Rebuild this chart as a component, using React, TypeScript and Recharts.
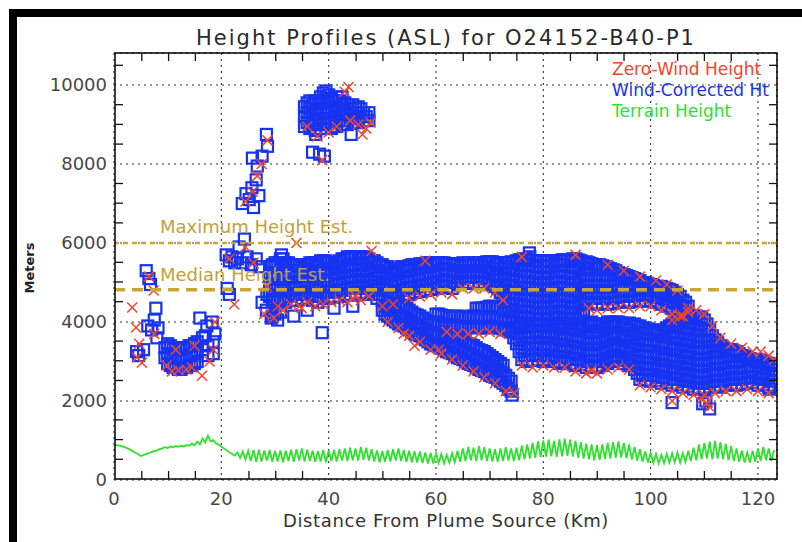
import React from 'react';
import { ScatterChart, Scatter, XAxis, YAxis, CartesianGrid } from 'recharts';

const FONT = "'DejaVu Sans', 'Liberation Sans', sans-serif";
const RED = '#f2452b';
const BLUE = '#1733f2';
const GREEN = '#2fe02f';
const GOLD = '#c9a635';
const GOLD_TEXT = '#bfa13c';

const chartTitle = 'Height Profiles (ASL) for O24152-B40-P1';
const xAxisTitle = 'Distance From Plume Source (Km)';
const yAxisTitle = 'Meters';

const X_MAX = 123.55;
const Y_MAX = 10812;
const PLOT_TOP = 53;
const PLOT_BOTTOM = 479;
const PLOT_LEFT = 115;
const PLOT_RIGHT = 777;

const xTicks = [0, 5, 10, 15, 20, 25, 30, 35, 40, 45, 50, 55, 60, 65, 70, 75, 80, 85, 90, 95, 100, 105, 110, 115, 120];
const xLabelTicks = [0, 20, 40, 60, 80, 100, 120];
const xGridTicks = [20, 40, 60, 80, 100, 120];
const yTicks = [0, 500, 1000, 1500, 2000, 2500, 3000, 3500, 4000, 4500, 5000, 5500, 6000, 6500, 7000, 7500, 8000, 8500, 9000, 9500, 10000, 10500];
const yLabelTicks = [0, 2000, 4000, 6000, 8000, 10000];
const yGridTicks = [2000, 4000, 6000, 8000, 10000];

const maxHeightEst = 6000;
const medianHeightEst = 4820;
const estimates = [
  { label: 'Maximum Height Est.', value: maxHeightEst, width: 2.5, dash: '5 4' },
  { label: 'Median Height Est.', value: medianHeightEst, width: 3.5, dash: '11 7' },
];

const legendItems = [
  { label: 'Zero-Wind Height', color: RED },
  { label: 'Wind-Corrected Ht', color: BLUE },
  { label: 'Terrain Height', color: GREEN },
];

// Wind-corrected heights, columns of [distance km, heights m]
const upperBandCols: [number, number[]][] = [
  [29, [4650, 4950, 5250, 5400]], [29.5, [4550, 4850, 5150, 5450]],
  [30, [4500, 4800, 5100, 5400, 5500]], [30.5, [4600, 4900, 5200, 5500]],
  [31, [4600, 4900, 5200, 5500, 5600]], [31.5, [4550, 4850, 5150, 5450, 5600]],
  [32, [4500, 4800, 5100, 5400, 5500]], [32.5, [4650, 4950, 5250, 5500]],
  [33, [4550, 4850, 5150, 5450]], [33.5, [4700, 5000, 5300, 5450]],
  [34, [4550, 4850, 5150, 5450]], [34.5, [4700, 5000, 5300, 5450]],
  [35, [4600, 4900, 5200, 5400]], [35.5, [4750, 5050, 5350, 5450]],
  [36, [4600, 4900, 5200, 5450]], [36.5, [4700, 5000, 5300, 5500]],
  [37, [4550, 4850, 5150, 5450, 5500]], [37.5, [4650, 4950, 5250, 5500]],
  [38, [4500, 4800, 5100, 5400, 5500]], [38.5, [4650, 4950, 5250, 5550]],
  [39, [4600, 4900, 5200, 5500, 5550]], [39.5, [4750, 5050, 5350, 5550]],
  [40, [4600, 4900, 5200, 5500]], [40.5, [4750, 5050, 5350, 5500]],
  [41, [4650, 4950, 5250, 5450]], [41.5, [4800, 5100, 5400, 5500]],
  [42, [4650, 4950, 5250, 5550]], [42.5, [4800, 5100, 5400, 5600]],
  [43, [4700, 5000, 5300, 5600]], [43.5, [4850, 5150, 5450, 5650]],
  [44, [4700, 5000, 5300, 5600, 5650]], [44.5, [4850, 5150, 5450, 5650]],
  [45, [4750, 5050, 5350, 5650]], [45.5, [4900, 5200, 5500, 5650]],
  [46, [4700, 5000, 5300, 5600, 5650]], [46.5, [4850, 5150, 5450, 5650]],
  [47, [4750, 5050, 5350, 5600]], [47.5, [4900, 5200, 5500, 5600]],
  [48, [4700, 5000, 5300, 5550]], [48.5, [4800, 5100, 5400, 5550]],
  [49, [4600, 4900, 5200, 5500]], [49.5, [4700, 5000, 5300, 5450]],
  [50, [4550, 4850, 5150, 5450]], [50.5, [4650, 4950, 5250, 5400]],
  [51, [4500, 4800, 5100, 5400]], [51.5, [4650, 4950, 5250, 5350]],
  [52, [4600, 4900, 5200, 5300]], [52.5, [4750, 5050, 5350]],
  [53, [4650, 4950, 5250, 5350]], [53.5, [4800, 5100, 5400]],
  [54, [4700, 5000, 5300, 5400]], [54.5, [4850, 5150, 5400]],
  [55, [4700, 5000, 5300, 5425]], [55.5, [4850, 5150, 5450]],
  [56, [4750, 5050, 5350, 5450]], [56.5, [4900, 5200, 5450]],
  [57, [4775, 5075, 5375, 5475]], [57.5, [4925, 5225, 5475]],
  [58, [4800, 5100, 5400, 5475]], [58.5, [4950, 5250, 5500]],
  [59, [4825, 5125, 5425, 5500]], [59.5, [4975, 5275, 5500]],
  [60, [4850, 5150, 5450, 5500]], [60.5, [5000, 5300, 5500]],
  [61, [4900, 5200, 5500]], [61.5, [5050, 5350, 5500]],
  [62, [4875, 5175, 5475]], [62.5, [5025, 5325, 5475]],
  [63, [4850, 5150, 5450]], [63.5, [5000, 5300, 5475]],
  [64, [4950, 5250, 5450]], [64.5, [5100, 5400]],
  [65, [5000, 5300, 5500]], [65.5, [5150, 5450]],
  [66, [4975, 5275, 5500]], [66.5, [5125, 5425]],
  [67, [5000, 5300, 5500]], [67.5, [5150, 5450]],
  [68, [4975, 5275, 5500]], [68.5, [5125, 5425]],
  [69, [5000, 5300, 5500]], [69.5, [5100, 5400, 5525]],
  [70, [4950, 5250, 5525]], [70.5, [5050, 5350, 5525]],
  [71, [4900, 5200, 5500]], [71.5, [4850, 5150, 5450]],
  [72, [4750, 5050, 5350, 5500]], [72.5, [4650, 4950, 5250, 5500]],
  [73, [4500, 4800, 5100, 5400, 5500]], [73.5, [4600, 4900, 5200, 5500]],
  [74, [4425, 4725, 5025, 5325, 5525]], [74.5, [4300, 4600, 4900, 5200, 5500]],
  [75, [4150, 4450, 4750, 5050, 5350, 5550]], [75.5, [4250, 4550, 4850, 5150, 5450, 5575]],
  [76, [4100, 4400, 4700, 5000, 5300, 5575]], [76.5, [4250, 4550, 4850, 5150, 5450, 5600]],
  [77, [4100, 4400, 4700, 5000, 5300, 5600]], [77.5, [4250, 4550, 4850, 5150, 5450, 5650]],
  [78, [4075, 4375, 4675, 4975, 5275, 5550]], [78.5, [4225, 4525, 4825, 5125, 5425, 5550]],
  [79, [4050, 4350, 4650, 4950, 5250, 5550]], [79.5, [4200, 4500, 4800, 5100, 5400, 5550]],
  [80, [4075, 4375, 4675, 4975, 5275, 5550]], [80.5, [4225, 4525, 4825, 5125, 5425, 5550]],
  [81, [4050, 4350, 4650, 4950, 5250, 5550]], [81.5, [4200, 4500, 4800, 5100, 5400, 5525]],
  [82, [4100, 4400, 4700, 5000, 5300, 5525]], [82.5, [4250, 4550, 4850, 5150, 5450, 5550]],
  [83, [4100, 4400, 4700, 5000, 5300, 5550]], [83.5, [4250, 4550, 4850, 5150, 5450, 5575]],
  [84, [4075, 4375, 4675, 4975, 5275, 5575]], [84.5, [4225, 4525, 4825, 5125, 5425, 5550]],
  [85, [4050, 4350, 4650, 4950, 5250, 5550]], [85.5, [4200, 4500, 4800, 5100, 5400, 5600]],
  [86, [4075, 4375, 4675, 4975, 5275, 5600]], [86.5, [4225, 4525, 4825, 5125, 5425, 5575]],
  [87, [4150, 4450, 4750, 5050, 5350, 5550]], [87.5, [4300, 4600, 4900, 5200, 5500]],
  [88, [4450, 4750, 5050, 5350, 5525]], [88.5, [4600, 4900, 5200, 5500]],
  [89, [4475, 4775, 5075, 5375, 5475]], [89.5, [4600, 4900, 5200, 5450]],
  [90, [4450, 4750, 5050, 5350, 5450]], [90.5, [4600, 4900, 5200, 5450]],
  [91, [4475, 4775, 5075, 5375, 5425]], [91.5, [4600, 4900, 5200, 5400]],
  [92, [4450, 4750, 5050, 5375]], [92.5, [4600, 4900, 5200, 5350]],
  [93, [4475, 4775, 5075, 5325]], [93.5, [4625, 4925, 5225, 5300]],
  [94, [4500, 4800, 5100, 5250]], [94.5, [4650, 4950, 5225]],
  [95, [4525, 4825, 5125, 5200]], [95.5, [4675, 4975, 5175]],
  [96, [4500, 4800, 5100, 5150]], [96.5, [4650, 4950, 5125]],
  [97, [4525, 4825, 5100]], [97.5, [4675, 4975, 5075]],
  [98, [4550, 4850, 5050]], [98.5, [4700, 5000]],
  [99, [4525, 4825, 5000]], [99.5, [4675, 4975]],
  [100, [4550, 4850, 4950]], [100.5, [4650, 4925]],
  [101, [4500, 4800, 4900]], [101.5, [4625, 4900]],
  [102, [4450, 4750, 4900]], [102.5, [4575, 4875]],
  [103, [4400, 4700, 4850]], [103.5, [4525, 4825]],
  [104, [4350, 4650, 4800]], [104.5, [4475, 4750]],
  [105, [4300, 4600, 4700]], [105.5, [4425, 4650]],
  [106, [4250, 4550]], [106.5, [4350, 4500]],
  [107, [4200, 4400]],
];

const lowerBandCols: [number, number[]][] = [
  [60, [4000, 4200]], [60.5, [3975, 4200]], [61, [3950, 4175]], [61.5, [3925, 4150]],
  [62, [3900, 4150]], [62.5, [3925, 4125]], [63, [3925, 4125]], [63.5, [3900, 4150]],
  [64, [3900, 4150]], [64.5, [3875, 4125]], [65, [3875, 4125]], [65.5, [3850, 4100]],
  [66, [3850, 4100]], [66.5, [3875, 4150]], [67, [3900, 4150]], [67.5, [3875, 4150, 4350]],
  [68, [3875, 4125, 4350]], [68.5, [3850, 4100, 4350]], [69, [3850, 4100, 4350]], [69.5, [3875, 4125, 4375]],
  [70, [3900, 4150, 4400]], [70.5, [3875, 4125, 4400]], [71, [3875, 4125, 4375]], [71.5, [3850, 4100, 4350]],
  [72, [3850, 4100, 4350]], [72.5, [3825, 4075, 4300]], [73, [3800, 4050, 4300]], [73.5, [3775, 4025, 4275]],
  [74, [3750, 4000, 4250]], [74.5, [3600, 3850, 4100]], [75, [3450, 3700, 3950]], [75.5, [3250, 3550, 3850]],
  [76, [3050, 3350, 3650, 3900]], [76.5, [3150, 3450, 3750, 3950]],
  [77, [3000, 3300, 3600, 3900]], [77.5, [3150, 3450, 3750, 3950]],
  [78, [3025, 3325, 3625, 3900]], [78.5, [3175, 3475, 3775, 3950]],
  [79, [3050, 3350, 3650, 3900]], [79.5, [3150, 3450, 3750, 3950]],
  [80, [3000, 3300, 3600, 3900]], [80.5, [3150, 3450, 3750, 3950]],
  [81, [3050, 3350, 3650, 3900]], [81.5, [3150, 3450, 3750, 3950]],
  [82, [3000, 3300, 3600, 3900]], [82.5, [3100, 3400, 3700, 3950]],
  [83, [2950, 3250, 3550, 3850]], [83.5, [3100, 3400, 3700, 3950]],
  [84, [3000, 3300, 3600, 3900]], [84.5, [3100, 3400, 3700, 3950]],
  [85, [2950, 3250, 3550, 3850, 3950]], [85.5, [3050, 3350, 3650, 3950]],
  [86, [2900, 3200, 3500, 3800, 3950]], [86.5, [3050, 3350, 3650, 3950]],
  [87, [2925, 3225, 3525, 3825, 3950]], [87.5, [3000, 3300, 3600, 3900]],
  [88, [2850, 3150, 3450, 3750, 3950]], [88.5, [3000, 3300, 3600, 3900, 3975]],
  [89, [2875, 3175, 3475, 3775, 4000]], [89.5, [3000, 3300, 3600, 3900]],
  [90, [2850, 3150, 3450, 3750, 3950]], [90.5, [3000, 3300, 3600, 3900]],
  [91, [2900, 3200, 3500, 3800, 3950]], [91.5, [3050, 3350, 3650, 3950]],
  [92, [2950, 3250, 3550, 3850, 4000]], [92.5, [3100, 3400, 3700, 4000]],
  [93, [3000, 3300, 3600, 3900, 3975]], [93.5, [3150, 3450, 3750, 4000]],
  [94, [3025, 3325, 3625, 3925, 4000]], [94.5, [3100, 3400, 3700, 3975]],
  [95, [2950, 3250, 3550, 3850, 3950]], [95.5, [3050, 3350, 3650, 3950]],
  [96, [2900, 3200, 3500, 3800, 3975]], [96.5, [3000, 3300, 3600, 3900]],
  [97, [2800, 3100, 3400, 3700, 3950]], [97.5, [2700, 3000, 3300, 3600, 3900]],
  [98, [2550, 2850, 3150, 3450, 3750, 3900]], [98.5, [2650, 2950, 3250, 3550, 3850]],
  [99, [2525, 2825, 3125, 3425, 3725, 3850]], [99.5, [2650, 2950, 3250, 3550, 3825]],
  [100, [2500, 2800, 3100, 3400, 3700, 3800]], [100.5, [2650, 2950, 3250, 3550, 3800]],
  [101, [2525, 2825, 3125, 3425, 3725, 3775]], [101.5, [2600, 2900, 3200, 3500, 3750]],
  [102, [2450, 2750, 3050, 3350, 3650, 3750]], [102.5, [2600, 2900, 3200, 3500, 3800]],
  [103, [2475, 2775, 3075, 3375, 3675, 3850]], [103.5, [2550, 2850, 3150, 3450, 3750, 3900]],
  [104, [2400, 2700, 3000, 3300, 3600, 3900, 3950]], [104.5, [2550, 2850, 3150, 3450, 3750, 4000]],
  [105, [2425, 2725, 3025, 3325, 3625, 3925, 4050]], [105.5, [2550, 2850, 3150, 3450, 3750, 4050]],
  [106, [2350, 2650, 2950, 3250, 3550, 3850, 4100]], [106.5, [2500, 2800, 3100, 3400, 3700, 4000, 4100]],
  [107, [2375, 2675, 2975, 3275, 3575, 3875, 4100]], [107.5, [2500, 2800, 3100, 3400, 3700, 4000, 4150]],
  [108, [2300, 2600, 2900, 3200, 3500, 3800, 4100, 4150]], [108.5, [2450, 2750, 3050, 3350, 3650, 3950, 4150]],
  [109, [2325, 2625, 2925, 3225, 3525, 3825, 4125]], [109.5, [2450, 2750, 3050, 3350, 3650, 3950, 4125]],
  [110, [2300, 2600, 2900, 3200, 3500, 3800, 4050]], [110.5, [2450, 2750, 3050, 3350, 3650, 3950]],
  [111, [2350, 2650, 2950, 3250, 3550, 3800]], [111.5, [2500, 2800, 3100, 3400, 3650]],
  [112, [2375, 2675, 2975, 3275, 3550]], [112.5, [2500, 2800, 3100, 3400, 3475]],
  [113, [2350, 2650, 2950, 3250, 3400]], [113.5, [2500, 2800, 3100, 3350]],
  [114, [2400, 2700, 3000, 3300]], [114.5, [2550, 2850, 3150, 3300]],
  [115, [2425, 2725, 3025, 3300]], [115.5, [2575, 2875, 3175, 3275]],
  [116, [2400, 2700, 3000, 3250]], [116.5, [2550, 2850, 3150, 3200]],
  [117, [2425, 2725, 3025, 3150]], [117.5, [2575, 2875, 3125]],
  [118, [2450, 2750, 3050, 3100]], [118.5, [2600, 2900, 3075]],
  [119, [2475, 2775, 3050]], [119.5, [2600, 2900, 3050]],
  [120, [2400, 2700, 3000, 3050]], [120.5, [2550, 2850, 3025]],
  [121, [2425, 2725, 3000]], [121.5, [2550, 2850, 2975]],
  [122, [2350, 2650, 2950]], [122.5, [2500, 2800, 2925]],
  [123, [2400, 2700, 2900]],
];

const tongueCols: [number, number[]][] = [
  [50, [4300]], [50.5, [4200, 4400]], [51, [4150, 4350]], [51.5, [4100, 4350]],
  [52, [4050, 4300]], [52.5, [4000, 4250, 4450]], [53, [3950, 4200, 4400]], [53.5, [3925, 4175, 4400]],
  [54, [3900, 4150, 4400]], [54.5, [3850, 4100, 4350]], [55, [3800, 4050, 4300]], [55.5, [3750, 4000, 4250]],
  [56, [3700, 3950, 4200]], [56.5, [3675, 3925, 4175]], [57, [3650, 3900, 4150]], [57.5, [3600, 3850, 4100]],
  [58, [3550, 3800, 4050]], [58.5, [3500, 3750, 4000]], [59, [3450, 3700, 3950]], [59.5, [3425, 3675, 3925]],
  [60, [3400, 3650]], [60.5, [3375, 3625]], [61, [3350, 3600]], [61.5, [3300, 3550, 3750]],
  [62, [3250, 3500, 3700]], [62.5, [3225, 3475, 3675]], [63, [3200, 3450, 3650]], [63.5, [3150, 3400, 3625]],
  [64, [3100, 3350, 3600]], [64.5, [3075, 3325, 3575]], [65, [3050, 3300, 3550]], [65.5, [3000, 3250, 3500]],
  [66, [2950, 3200, 3450]], [66.5, [2925, 3175, 3425]], [67, [2900, 3150, 3400]], [67.5, [2850, 3100, 3350]],
  [68, [2800, 3050, 3300]], [68.5, [2775, 3025, 3275]], [69, [2750, 3000, 3250]], [69.5, [2700, 2950, 3200]],
  [70, [2650, 2900, 3150]], [70.5, [2625, 2875, 3100]], [71, [2600, 2850, 3050]], [71.5, [2550, 2800, 3000]],
  [72, [2500, 2750, 2950]], [72.5, [2450, 2700, 2900]], [73, [2400, 2650]], [73.5, [2325, 2575]],
  [74, [2250, 2500]],
];

const highCols: [number, number[]][] = [
  [35.5, [8950, 9200, 9450]], [36, [9050, 9300, 9550]], [36.5, [8900, 9150, 9400, 9600]],
  [37, [9000, 9250, 9500]], [37.5, [8850, 9100, 9350, 9600]], [38, [9000, 9250, 9550]],
  [38.5, [8900, 9150, 9400, 9700]], [39, [9000, 9300, 9600, 9800]], [39.5, [8900, 9150, 9400, 9650, 9850]],
  [40, [9050, 9300, 9550, 9750]], [40.5, [8900, 9150, 9400, 9650]], [41, [9050, 9300, 9600]],
  [41.5, [8950, 9200, 9450, 9700]], [42, [9100, 9350, 9600]], [42.5, [9000, 9250, 9500, 9700]],
  [43, [9100, 9350, 9550]], [43.5, [9000, 9250, 9500]], [44, [9150, 9400]],
  [44.5, [9050, 9300, 9500]], [45, [9150, 9400]], [45.5, [9050, 9300, 9450]],
  [46, [9200, 9400]], [46.5, [9100, 9300]], [47, [9200]], [47.5, [9100, 9300]],
];

const earlyCols: [number, number[]][] = [
  [9.5, [3100, 3350]], [10, [2950, 3200, 3450]], [10.5, [2900, 3150, 3400]], [11, [2850, 3100, 3300]],
  [11.5, [2850, 3100, 3350]], [12, [2800, 3050, 3300]], [12.5, [2800, 3050, 3300]], [13, [2850, 3100, 3350]],
  [13.5, [2850, 3100, 3350]], [14, [2900, 3150, 3400]], [14.5, [2900, 3150, 3400]], [15, [2950, 3200, 3450]],
  [15.5, [3000, 3250, 3500]], [16.5, [3300, 3600]], [17.5, [3150, 3400]], [18.5, [3200, 3500]],
];

const windSparse: [number, number][] = [
  [4.2, 3250], [4.6, 3150], [5.5, 3300], [6.0, 5300], [6.5, 5100], [6.8, 4950], [6.3, 3900], [7.0, 3800],
  [7.5, 4050], [7.8, 4350], [8.2, 3850], [8.0, 3600], [16.0, 4100], [17.3, 3900], [18.8, 3700], [17.0, 3650], [18.3, 4000],
  [20.9, 5700], [21.5, 5550], [22.5, 5500], [23.0, 5600], [24.0, 5500], [24.8, 5650], [25.6, 5450], [21.1, 4850],
  [21.5, 4700], [23.3, 5900], [24.3, 6100], [23.9, 7000], [24.6, 7250], [25.2, 7100], [25.7, 7400], [26.5, 7600],
  [25.8, 8150], [26.7, 7950], [27.6, 8200], [28.6, 8450], [28.4, 8750], [27.0, 7200], [26.0, 6900], [27.6, 4500],
  [28.4, 4300], [29.3, 4100], [28.5, 4700], [30, 4200], [22, 5650], [26.5, 5600], [27.2, 5400],
  [37.6, 8750], [44.2, 8750], [37.0, 8300], [39.2, 8200], [38.3, 8250],
  [38.8, 3730], [31.2, 5700], [29.5, 4150], [30.5, 4050], [31, 4250], [33.5, 4150], [36, 4300], [41, 4350], [44.5, 4400],
  [77.4, 5750], [104, 1960], [109.7, 1930], [111, 1800], [110.3, 2000], [122.2, 2300], [73.5, 2300], [74.2, 2150],
];

// Zero-wind heights [distance km, height m]
const zeroWindPts: [number, number][] = [
  [3.4, 4370], [4.1, 3860], [4.7, 3450], [5.2, 2970], [4.3, 3100], [7.4, 4800], [6.5, 5150], [7.5, 3700], [9.8, 2900],
  [10.8, 2750], [12, 2780], [13.5, 2800], [14.5, 2850], [16.4, 2640], [17.8, 3000], [18.5, 3300], [18.8, 4000], [15, 3400], [11.5, 3300],
  [22.4, 4450], [24.5, 5900], [24.5, 7050], [25.8, 7300], [26.7, 7700], [27.5, 8000], [28.6, 8600], [28.0, 4200], [29.8, 4100],
  [21.5, 5600], [26.0, 5500], [28.5, 4900],
  [43.0, 9830], [43.7, 9950], [46.3, 8750], [47.0, 8900], [37.9, 8700], [38.8, 8100], [45.5, 9000], [47.8, 9050], [40, 8800],
  [41.5, 8950], [36, 8950], [44, 9100],
  [30.5, 4400], [31.5, 4300], [33, 4450], [34.5, 4400], [36, 4500], [37.5, 4400], [39, 4450], [40.5, 4500], [42, 4550],
  [43.5, 4500], [44.5, 4600], [46, 4550], [47.5, 4650], [34, 6000], [48, 5800], [45, 4650], [35, 4350],
  [50, 4400], [52, 4450], [55, 4600], [57, 4650], [59, 4700], [61, 4750], [63, 4700], [65, 4850], [67, 4850], [69, 4850],
  [71, 4750], [72.5, 4550], [88.5, 4350], [90, 4300], [92, 4350], [94, 4350], [96, 4350], [98, 4400], [100, 4400], [102, 4300],
  [104, 4200], [106, 4150], [107, 4350],
  [58, 5550], [76, 5650], [86, 5700], [92, 5450], [95, 5300], [98, 5150], [101, 5050], [103, 4950], [105, 4800],
  [51, 4000], [53, 3850], [55, 3650], [57, 3500], [59, 3300], [61, 3200], [63, 3050], [65, 2900], [67, 2750], [69, 2600],
  [71, 2450], [73, 2250], [74.6, 2200], [60.5, 3300], [56, 3400], [54, 3700],
  [62, 3750], [64, 3700], [66, 3700], [68, 3700], [70, 3750], [72, 3700],
  [76, 2900], [78, 2850], [80, 2900], [82, 2850], [84, 2850], [86, 2750], [88, 2700], [89, 2770], [90, 2700], [92, 2800],
  [94, 2850], [96, 2800], [98, 2400], [100, 2350], [102, 2300], [104, 2250], [106, 2200], [108, 2150], [110, 2150], [112, 2200],
  [114, 2250], [116, 2250], [118, 2300], [120, 2250], [122, 2200],
  [104, 4050], [105.5, 4150], [107, 4250], [108.5, 4300], [110, 4200], [111.5, 3900], [113, 3600], [115, 3450], [117, 3350],
  [119, 3250], [120.5, 3250], [122, 3150], [123, 3050],
  [104, 2000], [109.5, 2050], [110.5, 1950], [111, 1850],
];

// Terrain height sampled every 0.5 km from 0 km
const TERRAIN_START_KM = 0;
const TERRAIN_STEP_KM = 0.5;
const terrainHeights = [
  900, 880, 870, 850, 830, 800, 770, 730, 690, 650,
  610, 630, 660, 680, 710, 730, 750, 780, 800, 830,
  810, 850, 830, 860, 840, 870, 850, 880, 870, 920,
  880, 970, 900, 1050, 950, 1120, 980, 1010, 930, 900,
  840, 800, 750, 700, 660, 620, 700, 560, 720, 520,
  740,
  480, 760, 460, 770, 470, 750, 490, 760, 460, 740,
  470, 750, 450, 740, 480, 770, 460, 780, 490, 800,
  470, 770, 480, 740, 460, 730, 470, 760, 450, 750,
  480, 760, 470, 780, 490, 800, 480, 820, 500, 800,
  490, 840, 510, 820, 490, 780, 470, 750, 450, 730,
  460, 760, 470, 780, 490, 800, 480, 760, 460, 740,
  450, 730, 440, 720, 430, 700, 420, 690, 420, 680,
  430, 660, 420, 630, 440, 680, 450, 740, 460, 800,
  480, 840, 500, 820, 480, 860, 500, 830, 480, 800,
  470, 780, 460, 800, 480, 830, 490, 800, 480, 820,
  500, 870, 520, 900, 540, 940, 560, 980, 580, 1000,
  590, 1020, 600, 990, 580, 1030, 600, 1050, 610, 1020,
  590, 990, 560, 960, 540, 920, 520, 900, 500, 880,
  510, 900, 530, 940, 540, 960, 560, 980, 570, 940,
  550, 900, 520, 840, 490, 780, 460, 720, 440, 690,
  430, 660, 420, 640, 430, 660, 440, 680, 450, 700,
  440, 680, 460, 740, 480, 820, 500, 900, 520, 940,
  540, 970, 520, 990, 540, 960, 520, 920, 500, 860,
  480, 800, 460, 740, 440, 700, 440, 740, 460, 800,
  480, 840, 500, 800, 480, 760,
];

const colsToPts = (cols: [number, number[]][]) => cols.flatMap(([x, ys]) => ys.map((y) => ({ x, y })));
const pairsToPts = (pairs: [number, number][]) => pairs.map(([x, y]) => ({ x, y }));

const windCorrected = [
  ...colsToPts(upperBandCols),
  ...colsToPts(lowerBandCols),
  ...colsToPts(tongueCols),
  ...colsToPts(highCols),
  ...colsToPts(earlyCols),
  ...pairsToPts(windSparse),
];
const zeroWind = pairsToPts(zeroWindPts);
const terrain = terrainHeights.map((y, i) => ({ x: TERRAIN_START_KM + i * TERRAIN_STEP_KM, y }));
const estimateLines = estimates.map((e) => ({
  ...e,
  data: [
    { x: 0, y: e.value },
    { x: X_MAX, y: e.value },
  ],
}));

// Frame helpers (axis decorations only; data marks go through Recharts scales)
const xToPx = (v: number) => PLOT_LEFT + (v / X_MAX) * (PLOT_RIGHT - PLOT_LEFT);
const yToPx = (v: number) => PLOT_BOTTOM - (v / Y_MAX) * (PLOT_BOTTOM - PLOT_TOP);
const xMinorTicks = xTicks.filter((v) => !xLabelTicks.includes(v));
const yMinorTicks = yTicks.filter((v) => !yLabelTicks.includes(v));

const SquareShape = (p: any) => {
  const { cx, cy } = p;
  if (typeof cx !== 'number' || typeof cy !== 'number') return <g />;
  return <rect x={cx - 5.5} y={cy - 5.5} width={11} height={11} fill="none" stroke={BLUE} strokeWidth={2.2} />;
};
const CrossShape = (p: any) => {
  const { cx, cy } = p;
  if (typeof cx !== 'number' || typeof cy !== 'number') return <g />;
  const r = 5;
  return (
    <path
      d={`M${cx - r},${cy - r}L${cx + r},${cy + r}M${cx - r},${cy + r}L${cx + r},${cy - r}`}
      stroke={RED}
      strokeWidth={1.5}
      fill="none"
    />
  );
};
const NoShape = () => <g />;

const TICK_LEN = 8;
const tickFont = { fontFamily: FONT, fontSize: 18, fill: '#474747' };
const tickStroke = { stroke: '#111', strokeWidth: 1.3 };

const BottomLabel = (p: any) => {
  const { x, y, payload } = p;
  if (!xLabelTicks.includes(payload.value)) return <g />;
  return (
    <text x={x} y={y + TICK_LEN + 18} textAnchor="middle" dominantBaseline="central" {...tickFont}>
      {payload.value}
    </text>
  );
};
const LeftLabel = (p: any) => {
  const { x, y, payload } = p;
  if (!yLabelTicks.includes(payload.value)) return <g />;
  return (
    <text x={x - TICK_LEN - 7} y={y - 1} textAnchor="end" dominantBaseline="central" {...tickFont}>
      {payload.value}
    </text>
  );
};

export default function App() {
  return (
    <div style={{ position: 'absolute', left: 0, top: 0, width: 802, height: 542, background: '#fff' }}>
      <ScatterChart
        width={802}
        height={542}
        margin={{ top: PLOT_TOP, right: 802 - PLOT_RIGHT, bottom: 542 - PLOT_BOTTOM - 1, left: PLOT_LEFT - 1 }}
      >
        <XAxis
          xAxisId="grid"
          orientation="top"
          type="number"
          dataKey="x"
          domain={[0, X_MAX]}
          ticks={xGridTicks}
          hide
          height={0}
          allowDataOverflow
        />
        <YAxis
          yAxisId="grid"
          orientation="right"
          type="number"
          dataKey="y"
          domain={[0, Y_MAX]}
          ticks={yGridTicks}
          hide
          width={0}
          allowDataOverflow
        />
        <CartesianGrid xAxisId="grid" yAxisId="grid" stroke="#333" strokeWidth={1.1} strokeDasharray="2 4" />
        <XAxis
          xAxisId="main"
          type="number"
          dataKey="x"
          domain={[0, X_MAX]}
          allowDataOverflow
          ticks={xTicks}
          interval={0}
          height={1}
          mirror
          tickSize={TICK_LEN}
          tickMargin={0}
          tickLine={false}
          axisLine={false}
          tick={(p: any) => <BottomLabel {...p} />}
        />
        <YAxis
          yAxisId="main"
          type="number"
          dataKey="y"
          domain={[0, Y_MAX]}
          allowDataOverflow
          ticks={yTicks}
          interval={0}
          width={1}
          mirror
          tickSize={TICK_LEN}
          tickMargin={0}
          tickLine={false}
          axisLine={false}
          tick={(p: any) => <LeftLabel {...p} />}
        />
        <Scatter
          name="Terrain Height"
          data={terrain}
          xAxisId="main"
          yAxisId="main"
          fill={GREEN}
          line={{ stroke: GREEN, strokeWidth: 1.8 }}
          lineType="joint"
          shape={NoShape}
          isAnimationActive={false}
        />
        <Scatter
          name="Wind-Corrected Ht"
          data={windCorrected}
          xAxisId="main"
          yAxisId="main"
          fill={BLUE}
          shape={SquareShape}
          isAnimationActive={false}
        />
        <Scatter
          name="Zero-Wind Height"
          data={zeroWind}
          xAxisId="main"
          yAxisId="main"
          fill={RED}
          shape={CrossShape}
          isAnimationActive={false}
        />
        {estimateLines.map((e) => (
          <Scatter
            key={e.label}
            name={e.label}
            data={e.data}
            xAxisId="main"
            yAxisId="main"
            fill={GOLD}
            line={{ stroke: GOLD, strokeWidth: e.width, strokeDasharray: e.dash }}
            lineType="joint"
            shape={NoShape}
            isAnimationActive={false}
          />
        ))}
      </ScatterChart>
      <svg width={802} height={542} style={{ position: 'absolute', left: 0, top: 0, pointerEvents: 'none' }}>
        <rect x={9} y={9} width={793} height={8} fill="#000" />
        <rect x={9} y={9} width={8} height={533} fill="#000" />
        <rect
          x={PLOT_LEFT}
          y={PLOT_TOP}
          width={PLOT_RIGHT - PLOT_LEFT}
          height={PLOT_BOTTOM - PLOT_TOP}
          fill="none"
          stroke="#000"
          strokeWidth={1.5}
        />
        {xMinorTicks.map((v) => (
          <g key={`xt${v}`}>
            <line x1={xToPx(v)} y1={PLOT_BOTTOM} x2={xToPx(v)} y2={PLOT_BOTTOM - TICK_LEN} {...tickStroke} />
            <line x1={xToPx(v)} y1={PLOT_TOP} x2={xToPx(v)} y2={PLOT_TOP + TICK_LEN} {...tickStroke} />
          </g>
        ))}
        {yMinorTicks.map((v) => (
          <g key={`yt${v}`}>
            <line x1={PLOT_LEFT} y1={yToPx(v)} x2={PLOT_LEFT + TICK_LEN} y2={yToPx(v)} {...tickStroke} />
            <line x1={PLOT_RIGHT} y1={yToPx(v)} x2={PLOT_RIGHT - TICK_LEN} y2={yToPx(v)} {...tickStroke} />
          </g>
        ))}
        <text
          x={446}
          y={38}
          textAnchor="middle"
          dominantBaseline="central"
          fontFamily={FONT}
          fontSize={21}
          letterSpacing={2}
          fill="#2a2a2a"
        >
          {chartTitle}
        </text>
        <text
          transform="translate(29,268) rotate(-90)"
          textAnchor="middle"
          dominantBaseline="central"
          fontFamily={FONT}
          fontSize={13}
          fontWeight={600}
          fill="#222"
        >
          {yAxisTitle}
        </text>
        <text
          x={446}
          y={520}
          textAnchor="middle"
          dominantBaseline="central"
          fontFamily={FONT}
          fontSize={18}
          letterSpacing={0.6}
          fill="#333"
        >
          {xAxisTitle}
        </text>
        {estimates.map((e, i) => (
          <text
            key={e.label}
            x={PLOT_LEFT + 45}
            y={yToPx(e.value) - (i === 0 ? 16 : 15)}
            dominantBaseline="central"
            fontFamily={FONT}
            fontSize={18}
            fill={GOLD_TEXT}
          >
            {e.label}
          </text>
        ))}
        {legendItems.map((item, i) => (
          <text
            key={item.label}
            x={612}
            y={69 + i * 21}
            dominantBaseline="central"
            fontFamily={FONT}
            fontSize={17}
            fill={item.color}
          >
            {item.label}
          </text>
        ))}
      </svg>
    </div>
  );
}
